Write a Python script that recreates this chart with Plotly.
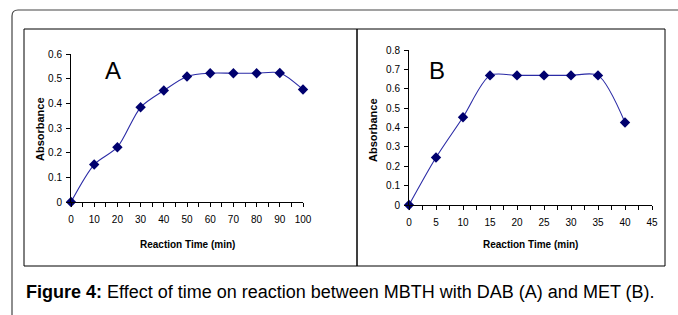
import plotly.graph_objects as go

W, H = 678, 315

time_a = [0, 10, 20, 30, 40, 50, 60, 70, 80, 90, 100]
abs_a = [0, 0.152, 0.222, 0.384, 0.452, 0.509, 0.522, 0.522, 0.522, 0.523, 0.456]
time_b = [0, 5, 10, 15, 20, 25, 30, 35, 40]
abs_b = [0, 0.245, 0.453, 0.669, 0.669, 0.669, 0.669, 0.669, 0.426]

caption_bold = "Figure 4:"
caption_rest = " Effect of time on reaction between MBTH with DAB (A) and MET (B)."

def px(x):
    return x / W

def py(y):
    return 1 - y / H

LINE = "#2b2ba6"
MARK = "#00006e"
FONT = "Liberation Sans, Arial, sans-serif"

fig = go.Figure()
fig.add_trace(go.Scatter(x=time_a, y=abs_a, mode="lines+markers", xaxis="x", yaxis="y",
                         line=dict(color=LINE, width=1.1, shape="spline", smoothing=0.8),
                         marker=dict(symbol="diamond", size=8, color=MARK),
                         cliponaxis=False, showlegend=False))
fig.add_trace(go.Scatter(x=time_b, y=abs_b, mode="lines+markers", xaxis="x2", yaxis="y2",
                         line=dict(color=LINE, width=1.1, shape="spline", smoothing=0.8),
                         marker=dict(symbol="diamond", size=8, color=MARK),
                         cliponaxis=False, showlegend=False))

axis_common = dict(showgrid=False, zeroline=False, showline=True, linecolor="black", linewidth=1,
                   ticks="outside", ticklen=4, tickcolor="black", tickwidth=1, automargin=False,
                   tickfont=dict(family=FONT, size=10, color="black"), fixedrange=True)

fig.update_layout(
    width=W, height=H, margin=dict(l=0, r=0, t=0, b=0, pad=0),
    paper_bgcolor="white", plot_bgcolor="white",
    xaxis=dict(domain=[px(71), px(303)], range=[0, 100], dtick=10, anchor="y", ticklabelstandoff=4,
               minor=dict(dtick=5, ticks="outside", ticklen=4, tickcolor="black"), **axis_common),
    yaxis=dict(domain=[py(202), py(54)], range=[0, 0.6], dtick=0.1, anchor="x", ticklabelstandoff=2,
               **axis_common),
    xaxis2=dict(domain=[px(409), px(652)], range=[0, 45], dtick=5, anchor="y2", ticklabelstandoff=4,
                minor=dict(dtick=2.5, ticks="outside", ticklen=4, tickcolor="black"), **axis_common),
    yaxis2=dict(domain=[py(205), py(50)], range=[0, 0.8], dtick=0.1, anchor="x2", ticklabelstandoff=2,
                **axis_common),
)

shapes = []
r = 6
shapes.append(dict(type="path", xref="paper", yref="paper",
                   path=f"M {px(12)} {py(H+5)} L {px(12)} {py(10+r)} Q {px(12)} {py(10)} {px(12+r)} {py(10)} L {px(W+5)} {py(10)}",
                   line=dict(color="#444", width=1.2)))
shapes.append(dict(type="rect", xref="paper", yref="paper", x0=px(24), y0=py(266), x1=px(357), y1=py(29),
                   line=dict(color="black", width=1)))
shapes.append(dict(type="rect", xref="paper", yref="paper", x0=px(357), y0=py(266), x1=px(665), y1=py(29),
                   line=dict(color="black", width=1)))
fig.update_layout(shapes=shapes)

def note(text, x, y, size, angle=0, xanchor="center"):
    return dict(text=text, x=px(x), y=py(y), xref="paper", yref="paper", showarrow=False,
                xanchor=xanchor, yanchor="middle", textangle=angle,
                font=dict(family=FONT, size=size, color="black"))

ann = [note("A", 113, 71, 24), note("B", 437, 70, 24)]
for xc, yc in [(40, 129), (373, 130)]:
    ann.append(note("<b>Absorbance</b>", xc, yc, 11, angle=-90))
for xc, yc in [(187, 244), (530, 244)]:
    ann.append(note("<b>Reaction Time (min)</b>", xc, yc, 10))
ann.append(note(f"<b>{caption_bold}</b>{caption_rest}", 24, 292, 18, xanchor="left"))
fig.update_layout(annotations=ann)

fig.write_html("out.html", config={"displayModeBar": False},
               post_script="document.body.style.margin='0';document.body.style.padding='0';")
